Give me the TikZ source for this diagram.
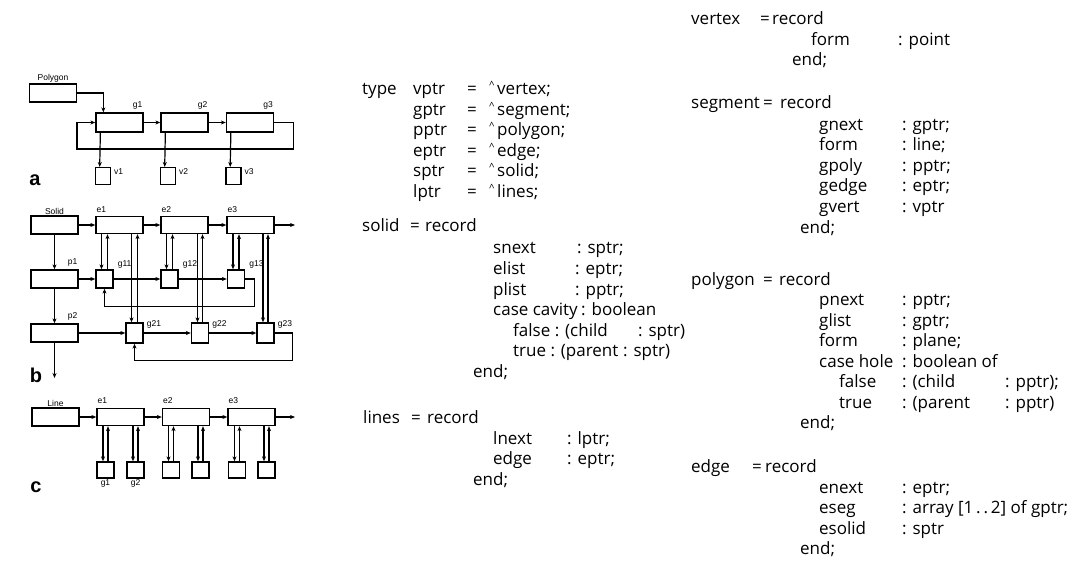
\documentclass[tikz,border=0pt]{standalone}
\usepackage{fontspec}
\setmainfont{Open Sans}
\newfontfamily\figfont{Liberation Sans}
\usetikzlibrary{arrows.meta,calc}
\tikzset{
  rec/.style={draw,line width=1.3pt,minimum width=47pt,minimum height=18pt,inner sep=0pt},
  cell/.style={draw,line width=1.3pt,minimum width=17pt,minimum height=18pt,inner sep=0pt},
  link/.style={line width=1.2pt,-{Stealth[length=5pt,width=4pt]}},
  lbl/.style={font=\figfont\fontsize{8.5}{9}\selectfont,inner sep=1pt},
  part/.style={font=\figfont\bfseries\fontsize{20}{20}\selectfont,inner sep=0pt},
  src/.style={anchor=base west,inner sep=0pt,font=\fontsize{17}{20}\selectfont},
  hat/.style={anchor=base west,inner sep=0pt,font=\fontsize{10}{10}\selectfont}
}
% pair of opposite pointers between an upper and a lower record
\newcommand\duplex[3]{%
  \draw[link] ([xshift=-#3pt]#2.north |- #1.south) -- ([xshift=-#3pt]#2.north);
  \draw[link] ([xshift=#3pt]#2.north) -- ([xshift=#3pt]#2.north |- #1.south);
}
\begin{document}
\begin{tikzpicture}[x=1pt,y=-1pt]
\useasboundingbox (0,0) rectangle (1081,561);
\fill[white] (0,0) rectangle (1081,561);

% ---- a: polygon ----
\node[rec] (poly) at (53,93) {};
\node[lbl,above] (polyl) at (poly.north) {Polygon};
\foreach \n/\x in {1/119.5,2/184.5,3/250}{
  \node[rec,minimum height=19pt] (sa\n) at (\x,122.5) {};
  \node[lbl,anchor=south east] (sal\n) at ($(sa\n.north east)+(0,-2)$) {g\n};
  \node[cell,minimum width=15pt,minimum height=17pt] (va\n) at ($(sa\n.south west)+(7.5,43.5)$) {};
  \node[lbl,anchor=west] (val\n) at ($(va\n.north east)+(2,5)$) {v\n};
  \draw[link] ($(sa\n.south west)+(5,0)$) -- ($(va\n.north west)+(5,0)$);
}
\draw[link] (poly.east) -| ($(sa1.north west)+(8,0)$);
\draw[link] (sa1) -- (sa2);
\draw[link] (sa2) -- (sa3);
\coordinate (aret) at (77,149);
\draw[link] (sa3.east) -- ++(19,0) |- (aret) |- (sa1.west);
\node[part] (parta) at (35,180) {a};

% ---- b: solid ----
\node[rec] (solid) at (54.5,225) {};
\node[lbl,above] (solidl) at (solid.north) {Solid};
\node[rec] (p1) at (54.5,279) {};
\node[lbl,anchor=south east] (p1l) at ($(p1.north east)+(0,-2)$) {p1};
\node[rec] (p2) at (54.5,333) {};
\node[lbl,anchor=south east] (p2l) at ($(p2.north east)+(0,-2)$) {p2};
\foreach \n/\x in {1/119.5,2/184.5,3/250.5}{
  \node[rec,minimum height=17pt] (eb\n) at (\x,225) {};
  \node[lbl,anchor=south west] (ebl\n) at ($(eb\n.north west)+(0,-2)$) {e\n};
}
\foreach \n/\x in {1/104.5,2/169.5,3/236}{
  \node[cell] (gb1\n) at (\x,279) {};
  \node[lbl,anchor=south west] (gbl1\n) at ($(gb1\n.north east)+(3,0)$) {g1\n};
}
\foreach \n/\x in {1/134.5,2/200,3/265.5}{
  \node[cell,minimum height=20pt] (gb2\n) at (\x,333) {};
  \node[lbl,anchor=west] (gbl2\n) at ($(gb2\n.north east)+(2,2)$) {g2\n};
}
\coordinate (ebout) at (295,225);
\coordinate (p2out) at (54.5,378);
\draw[link] (solid) -- (eb1);
\draw[link] (eb1) -- (eb2);
\draw[link] (eb2) -- (eb3);
\draw[link] (eb3.east) -- (ebout);
\draw[link] (solid) -- (p1);
\draw[link] (p1) -- (p2);
\draw[link] (p2.south) -- (p2out);
\draw[link] (p1) -- (gb11);
\draw[link] (gb11) -- (gb12);
\draw[link] (gb12) -- (gb13);
\draw[link] (p2) -- (gb21);
\draw[link] (gb21) -- (gb22);
\draw[link] (gb22) -- (gb23);
\foreach \n in {1,2,3}{
  \duplex{eb\n}{gb1\n}{3}
}
\duplex{eb1}{gb21}{3}
\duplex{eb2}{gb22}{2.5}
\duplex{eb3}{gb23}{2.5}
\draw[link] (gb13.east) -- ++(9,0) |- ($(gb11.south)+(0,18)$) -- (gb11.south);
\draw[link] (gb23.east) -- ++(18,0) |- ($(gb21.south)+(0,17)$) -- (gb21.south);
\node[part] (partb) at (36,375) {b};

% ---- c: line ----
\node[rec] (line) at (55.5,417) {};
\node[lbl,above] (linel) at (line.north) {Line};
\foreach \n/\x in {1/120.5,2/186,3/251.5}{
  \node[rec,minimum height=17pt] (ec\n) at (\x,417) {};
  \node[lbl,anchor=south west] (ecl\n) at ($(ec\n.north west)+(0,-3)$) {e\n};
}
\foreach \n/\x in {1/105.5,2/135.5,3/171,4/200.5,5/237,6/266.5}{
  \node[cell,minimum height=16pt] (gc\n) at (\x,470) {};
}
\node[lbl,below] (gcl1) at (gc1.south) {g1};
\node[lbl,below] (gcl2) at (gc2.south) {g2};
\coordinate (ecout) at (295,417);
\draw[link] (line) -- (ec1);
\draw[link] (ec1) -- (ec2);
\draw[link] (ec2) -- (ec3);
\draw[link] (ec3.east) -- (ecout);
\duplex{ec1}{gc1}{2.5}
\duplex{ec1}{gc2}{2.5}
\duplex{ec2}{gc3}{2.5}
\duplex{ec2}{gc4}{2.5}
\duplex{ec3}{gc5}{2.5}
\duplex{ec3}{gc6}{2.5}
\node[part] (partc) at (36,487) {c};

% ---- type declarations ----
\node[src] (kwtype) at (362,95) {type};
\foreach \f/\t [count=\i] in {vptr/vertex,gptr/segment,pptr/polygon,eptr/edge,sptr/solid,lptr/lines}{
  \pgfmathsetmacro\yy{74.5+20.5*\i}
  \node[src] (tf\i) at (413,\yy) {\f};
  \node[src] (te\i) at (467,\yy) {=};
  \node[hat] (th\i) at (489,{\yy-6}) {\textasciicircum};
  \node[src] (tt\i) at (497,\yy) {\t;};
}

% solid
\node[src] (sname) at (362,232) {solid};
\node[src] (seq) at (410,232) {=};
\node[src] (srec) at (425,232) {record};
\foreach \f/\t/\c [count=\i] in {snext/sptr;/577,elist/eptr;/575,plist/pptr;/575}{
  \pgfmathsetmacro\yy{233.5+20.5*\i}
  \node[src] (sf\i) at (493,\yy) {\f};
  \node[src] (st\i) at (\c,\yy) {: \t};
}
\node[src] (sf4) at (493,315.5) {case cavity};
\node[src] (st4) at (581,315.5) {: boolean};
\node[src] (sf5) at (513,336) {false : (child};
\node[src] (st5) at (638,336) {: sptr)};
\node[src] (sf6) at (513,356.5) {true : (parent};
\node[src] (st6) at (623,356.5) {: sptr)};
\node[src] (send) at (473,377) {end;};

% lines
\node[src] (lname) at (363,423) {lines};
\node[src] (leq) at (411,423) {=};
\node[src] (lrec) at (427,423) {record};
\node[src] (lf1) at (493,444) {lnext};
\node[src] (lt1) at (567,444) {: lptr;};
\node[src] (lf2) at (493,464.5) {edge};
\node[src] (lt2) at (567,464.5) {: eptr;};
\node[src] (lend) at (473,485) {end;};

% vertex
\node[src] (vname) at (691,25) {vertex};
\node[src] (veq) at (760,25) {=};
\node[src] (vrec) at (772,25) {record};
\node[src] (vf1) at (811,45.5) {form};
\node[src] (vt1) at (898,45.5) {: point};
\node[src] (vend) at (792,66) {end;};

% segment
\node[src] (gname) at (691,109) {segment};
\node[src] (geq) at (763,109) {=};
\node[src] (grec) at (780,109) {record};
\foreach \f/\t [count=\i] in {gnext/gptr;,form/line;,gpoly/pptr;,gedge/eptr;,gvert/vptr}{
  \pgfmathsetmacro\yy{110+20.5*\i}
  \node[src] (gf\i) at (819,\yy) {\f};
  \node[src] (gt\i) at (902,\yy) {: \t};
}
\node[src] (gend) at (800,233.5) {end;};

% polygon
\node[src] (pname) at (691,285) {polygon};
\node[src] (peq) at (763,285) {=};
\node[src] (prec) at (779,285) {record};
\foreach \f/\t [count=\i] in {pnext/pptr;,glist/gptr;,form/plane;,case hole/boolean of}{
  \pgfmathsetmacro\yy{285+20.5*\i}
  \node[src] (pf\i) at (819,\yy) {\f};
  \node[src] (pt\i) at (902,\yy) {: \t};
}
\node[src] (pf5) at (839,387.5) {false};
\node[src] (pt5) at (902,387.5) {: (child};
\node[src] (pu5) at (1005,387.5) {: pptr);};
\node[src] (pf6) at (839,408) {true};
\node[src] (pt6) at (902,408) {: (parent};
\node[src] (pu6) at (1005,408) {: pptr)};
\node[src] (pend) at (800,428.5) {end;};

% edge
\node[src] (ename) at (691,472.5) {edge};
\node[src] (eeq) at (752,472.5) {=};
\node[src] (erec) at (765,472.5) {record};
\foreach \f/\t [count=\i] in {enext/eptr;,eseg/{array [1\,.\,.\,2] of gptr;},esolid/sptr}{
  \pgfmathsetmacro\yy{472.5+20.5*\i}
  \node[src] (ef\i) at (819,\yy) {\f};
  \node[src] (et\i) at (902,\yy) {: \t};
}
\node[src] (eend) at (800,554.5) {end;};
\end{tikzpicture}
\end{document}
